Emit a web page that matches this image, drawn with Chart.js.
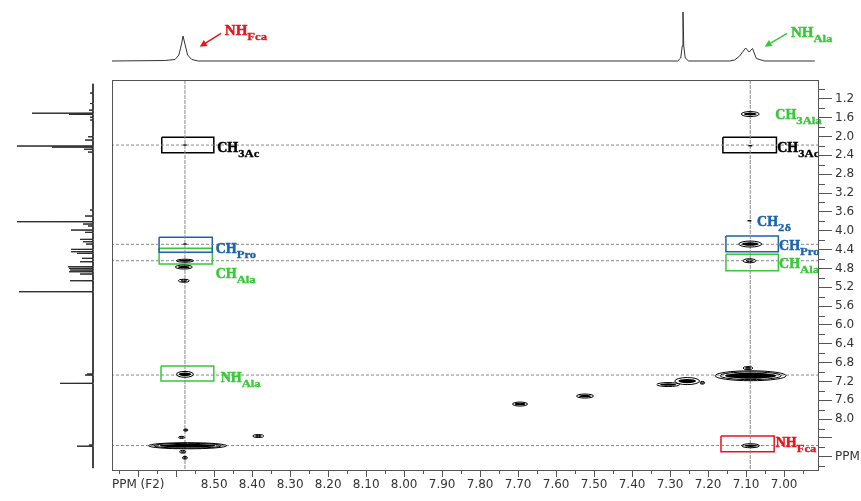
<!DOCTYPE html>
<html>
<head>
<meta charset="utf-8">
<script src="https://cdn.jsdelivr.net/npm/chart.js@4.4.1/dist/chart.umd.min.js"></script>
<style>
  html, body { margin: 0; padding: 0; background: #fff; }
  #wrap { position: relative; width: 861px; height: 501px; }
  #wrap canvas { position: absolute; left: 0; top: 0; }
</style>
</head>
<body>
<div id="wrap">
  <canvas id="main" width="861" height="501"></canvas>
  <canvas id="top" width="861" height="501"></canvas>
  <canvas id="side" width="861" height="501"></canvas>
</div>
<script>
// axis ranges (ppm)
var f2Range = [6.908, 8.769];
var f1Range = [0.80, 9.08];

// tick values
var f2Ticks = [8.7, 8.6, 8.5, 8.4, 8.3, 8.2, 8.1, 8.0, 7.9, 7.8, 7.7, 7.6, 7.5, 7.4, 7.3, 7.2, 7.1, 7.0];
var f2Minor = [8.75, 8.65, 8.55, 8.45, 8.35, 8.25, 8.15, 8.05, 7.95, 7.85, 7.75, 7.65, 7.55, 7.45, 7.35, 7.25, 7.15, 7.05, 6.95];
var f1Ticks = [1.2, 1.6, 2.0, 2.4, 2.8, 3.2, 3.6, 4.0, 4.4, 4.8, 5.2, 5.6, 6.0, 6.4, 6.8, 7.2, 7.6, 8.0, 8.4, 8.8];
var f1Minor = [1.0, 1.4, 1.8, 2.2, 2.6, 3.0, 3.4, 3.8, 4.2, 4.6, 5.0, 5.4, 5.8, 6.2, 6.6, 7.0, 7.4, 7.8, 8.2, 8.6, 9.0];

// 1D trace on top (F2), intensity
var topPpm = [8.769, 8.630, 8.603, 8.593, 8.586, 8.582, 8.577, 8.570, 8.559, 8.542,
              7.280, 7.272, 7.268, 7.266, 7.264, 7.260, 7.251,
              7.143, 7.130, 7.117, 7.101, 7.092, 7.083, 7.073, 7.051, 6.919];
var topInt = [0, 0.5, 1.5, 6, 17, 25, 17, 6, 1.5, 0,
              0, 3, 15, 49, 15, 3, 0,
              0, 1, 5, 13, 9, 12.5, 2.5, 0, 0];

// 1D trace on the left (F1): line positions and heights
var sideLines = [1.077, 1.30, 1.44, 1.505, 1.53, 1.59, 1.65, 2.005, 2.075, 2.202, 2.225, 2.27, 2.33,
                 3.56, 3.688, 3.809, 3.858, 3.90, 3.986, 4.034, 4.183, 4.234, 4.283, 4.395, 4.446, 4.48,
                 4.586, 4.659, 4.765, 4.799, 4.835, 4.871, 4.92, 5.062, 5.295, 7.043, 7.064, 7.24, 8.55, 8.575];
var sideInt = [3, 3, 4, 61, 24, 3, 3, 5, 8, 76, 41, 9, 5,
               3, 8, 76, 10, 5, 22, 8, 13, 10, 7, 22, 22, 16,
               11, 13, 25, 24, 23, 24, 13, 23, 74, 6, 8, 33, 4, 16];

// cross peaks: F2, F1, extent along F2, extent along F1 (ppm), contour level
var crossF2 = [8.577, 8.577, 8.577, 8.580, 8.580, 8.577, 8.570, 8.575, 8.586, 8.583, 8.577, 8.384,
               7.089, 7.089, 7.091, 7.089, 7.091, 7.088, 7.095, 7.305, 7.255, 7.215, 7.524, 7.695, 7.088];
var crossF1 = [2.181, 4.283, 4.637, 4.771, 5.062, 7.049, 8.565, 8.232, 8.387, 8.693, 8.82, 8.359,
               1.523, 2.196, 3.788, 4.283, 4.637, 7.079, 6.916, 7.266, 7.192, 7.228, 7.51, 7.68, 8.565];
var crossW = [0.008, 0.008, 0.045, 0.045, 0.029, 0.045, 0.205, 0.012, 0.016, 0.016, 0.013, 0.029,
              0.047, 0.010, 0.010, 0.060, 0.034, 0.187, 0.026, 0.060, 0.065, 0.012, 0.045, 0.040, 0.047];
var crossH = [0.02, 0.02, 0.064, 0.085, 0.064, 0.125, 0.13, 0.045, 0.045, 0.06, 0.06, 0.064,
              0.106, 0.02, 0.02, 0.127, 0.085, 0.21, 0.064, 0.085, 0.15, 0.06, 0.085, 0.085, 0.085];
var crossLevel = [0, 0, 2, 2, 1, 2, 3, 1, 1, 1, 1, 1,
                  2, 0, 0, 2, 1, 3, 1, 2, 2, 1, 2, 2, 2];

// guide lines
var hLineF1 = [2.181, 4.289, 4.637, 7.064, 8.561];
var vLineF2 = [8.577, 7.089];

// boxes (F2 from/to, F1 from/to)
var boxF2a = [8.638, 8.645, 8.645, 8.640, 7.161, 7.153, 7.153, 7.166];
var boxF2b = [8.501, 8.505, 8.505, 8.501, 7.020, 7.015, 7.015, 7.026];
var boxF1a = [2.017, 4.141, 4.374, 6.873, 2.017, 4.113, 4.502, 8.359];
var boxF1b = [2.344, 4.459, 4.707, 7.192, 2.344, 4.446, 4.850, 8.693];
var boxKind = ['k', 'b', 'g', 'g', 'k', 'b', 'g', 'r'];

// labels in the 2D plot
var labMain = ['CH', 'CH', 'CH', 'NH', 'CH', 'CH', 'CH', 'CH', 'CH', 'NH'];
var labSub = ['3Ac', 'Pro', 'Ala', 'Ala', '3Ala', '3Ac', '2δ', 'Pro', 'Ala', 'Fca'];
var labF2 = [8.492, 8.496, 8.496, 8.483, 7.023, 7.018, 7.071, 7.013, 7.013, 7.022];
var labF1 = [2.33, 4.463, 5.005, 7.202, 1.618, 2.319, 3.90, 4.41, 4.792, 8.589];
var labKind = ['k', 'b', 'g', 'g', 'g', 'k', 'b', 'b', 'g', 'r'];

// labels over the top trace, with arrows
var topLabMain = ['NH', 'NH'];
var topLabSub = ['Fca', 'Ala'];
var topLabF2 = [8.472, 6.982];
var topLabInt = [26, 24.5];
var topLabKind = ['r', 'g'];
var arrowFromF2 = [8.482, 6.992];
var arrowFromInt = [27.7, 27.7];
var arrowToF2 = [8.538, 7.051];
var arrowToInt = [14.3, 14.3];

var colors = { k: '#000000', b: '#1b63ad', g: '#36c936', r: '#e3151d' };
var tickFont = { family: 'DejaVu Sans', size: 12 };

function near(a, b) { return Math.abs(a - b) < 1e-6; }

function drawLabel(ctx, x, y, main, sub, color, size) {
  ctx.save();
  ctx.fillStyle = color;
  ctx.strokeStyle = color;
  ctx.lineWidth = 0.5;
  ctx.textAlign = 'left';
  ctx.textBaseline = 'alphabetic';
  ctx.font = 'bold ' + size + 'px "Liberation Serif"';
  ctx.fillText(main, x, y);
  ctx.strokeText(main, x, y);
  var w = ctx.measureText(main).width;
  ctx.translate(x + w, y + 5);
  ctx.scale(1.15, 1);
  ctx.font = 'bold 11px "Liberation Serif"';
  ctx.fillText(sub, 0, 0);
  ctx.lineWidth = 0.3;
  ctx.strokeText(sub, 0, 0);
  ctx.restore();
}

function ellipse(ctx, cx, cy, rx, ry) {
  ctx.beginPath();
  ctx.ellipse(cx, cy, Math.max(rx, 0.6), Math.max(ry, 0.6), 0, 0, Math.PI * 2);
}

// datasets of the 2D plot
var datasets = [];
hLineF1.forEach(function (v) {
  datasets.push({ data: [{ x: f2Range[0], y: v }, { x: f2Range[1], y: v }], showLine: true,
    borderColor: '#8a8a8a', borderWidth: 1, borderDash: [3, 2], pointRadius: 0 });
});
vLineF2.forEach(function (v) {
  datasets.push({ data: [{ x: v, y: f1Range[0] }, { x: v, y: f1Range[1] }], showLine: true,
    borderColor: '#8a8a8a', borderWidth: 1, borderDash: [4, 1], pointRadius: 0 });
});
boxF2a.forEach(function (a, i) {
  var b = boxF2b[i], c = boxF1a[i], d = boxF1b[i];
  datasets.push({ data: [{ x: a, y: c }, { x: b, y: c }, { x: b, y: d }, { x: a, y: d }, { x: a, y: c }],
    showLine: true, borderColor: colors[boxKind[i]], borderWidth: 1.5, pointRadius: 0 });
});
var crossIndex = datasets.length;
datasets.push({ data: crossF2.map(function (v, i) { return { x: v, y: crossF1[i] }; }), pointRadius: 0 });

var mainPlugin = {
  id: 'nmr2d',
  afterDatasetsDraw: function (chart) {
    var ctx = chart.ctx, xs = chart.scales.x, ys = chart.scales.y, a = chart.chartArea;
    var meta = chart.getDatasetMeta(crossIndex);
    ctx.save();
    ctx.beginPath();
    ctx.rect(a.left, a.top, a.right - a.left, a.bottom - a.top);
    ctx.clip();
    ctx.strokeStyle = '#000';
    ctx.fillStyle = '#000';
    meta.data.forEach(function (pt, i) {
      var rx = Math.abs(xs.getPixelForValue(crossF2[i] + crossW[i] / 2) - xs.getPixelForValue(crossF2[i] - crossW[i] / 2)) / 2;
      var ry = Math.abs(ys.getPixelForValue(crossF1[i] + crossH[i] / 2) - ys.getPixelForValue(crossF1[i] - crossH[i] / 2)) / 2;
      var lv = crossLevel[i];
      if (lv === 0) {
        ctx.lineWidth = 1.4;
        ctx.beginPath();
        ctx.moveTo(pt.x - rx, pt.y);
        ctx.lineTo(pt.x + rx, pt.y);
        ctx.stroke();
        return;
      }
      ctx.lineWidth = 1;
      ellipse(ctx, pt.x, pt.y, rx, ry);
      ctx.stroke();
      if (lv === 1) {
        ellipse(ctx, pt.x, pt.y, rx * 0.5, ry * 0.45);
        ctx.stroke();
      } else if (lv === 2) {
        ellipse(ctx, pt.x, pt.y, rx * 0.72, ry * 0.6);
        ctx.fill();
      } else {
        ellipse(ctx, pt.x, pt.y, rx * 0.86, ry * 0.78);
        ctx.stroke();
        ellipse(ctx, pt.x, pt.y, rx * 0.72, ry * 0.6);
        ctx.fill();
      }
    });
    ctx.restore();

    labMain.forEach(function (m, i) {
      drawLabel(ctx, xs.getPixelForValue(labF2[i]), ys.getPixelForValue(labF1[i]), m, labSub[i], colors[labKind[i]], 14);
    });
  },
  afterDraw: function (chart) {
    var ctx = chart.ctx, xs = chart.scales.x, ys = chart.scales.y, a = chart.chartArea;
    ctx.save();
    ctx.strokeStyle = '#555';
    ctx.lineWidth = 1;
    ctx.strokeRect(a.left + 0.5, a.top + 0.5, a.right - a.left - 1, a.bottom - a.top);
    ctx.beginPath();
    f2Minor.forEach(function (v) {
      var px = Math.round(xs.getPixelForValue(v)) + 0.5;
      ctx.moveTo(px, a.bottom);
      ctx.lineTo(px, a.bottom + 4);
    });
    f1Minor.forEach(function (v) {
      var py = Math.round(ys.getPixelForValue(v)) + 0.5;
      ctx.moveTo(a.right, py);
      ctx.lineTo(a.right + 6, py);
    });
    ctx.stroke();
    ctx.restore();
  }
};

new Chart(document.getElementById('main'), {
  type: 'scatter',
  data: { datasets: datasets },
  options: {
    responsive: false,
    animation: false,
    events: [],
    layout: { padding: { left: 112, top: 80, right: 0, bottom: 0 } },
    plugins: { legend: { display: false }, tooltip: { enabled: false } },
    scales: {
      x: {
        type: 'linear', position: 'bottom', reverse: true, min: f2Range[0], max: f2Range[1],
        afterBuildTicks: function (s) { s.ticks = f2Ticks.map(function (v) { return { value: v }; }); },
        afterFit: function (s) { s.height = 31; },
        grid: { drawOnChartArea: false, drawTicks: true, tickLength: 7, tickColor: '#555' },
        border: { display: false },
        ticks: {
          autoSkip: false, maxRotation: 0, padding: 1, color: '#333', font: tickFont,
          callback: function (v) {
            if (near(v, 8.7)) return 'PPM (F2)';
            if (near(v, 8.6)) return '';
            return Number(v).toFixed(2);
          }
        }
      },
      y: {
        type: 'linear', position: 'right', reverse: true, min: f1Range[0], max: f1Range[1],
        afterBuildTicks: function (s) { s.ticks = f1Ticks.map(function (v) { return { value: v }; }); },
        afterFit: function (s) { s.width = 42; },
        grid: { drawOnChartArea: false, drawTicks: true, tickLength: 13, tickColor: '#555' },
        border: { display: false },
        ticks: {
          autoSkip: false, padding: 3, color: '#333', font: tickFont,
          callback: function (v) {
            if (near(v, 8.4)) return '';
            if (near(v, 8.8)) return 'PPM';
            return Number(v).toFixed(1);
          }
        }
      }
    }
  },
  plugins: [mainPlugin]
});

// top projection
var topPlugin = {
  id: 'topNotes',
  afterDatasetsDraw: function (chart) {
    var ctx = chart.ctx, xs = chart.scales.x, ys = chart.scales.y;
    topLabMain.forEach(function (m, i) {
      var col = colors[topLabKind[i]];
      drawLabel(ctx, xs.getPixelForValue(topLabF2[i]), ys.getPixelForValue(topLabInt[i]), m, topLabSub[i], col, 15);
      var x0 = xs.getPixelForValue(arrowFromF2[i]), y0 = ys.getPixelForValue(arrowFromInt[i]);
      var x1 = xs.getPixelForValue(arrowToF2[i]), y1 = ys.getPixelForValue(arrowToInt[i]);
      var ang = Math.atan2(y1 - y0, x1 - x0);
      ctx.save();
      ctx.strokeStyle = col;
      ctx.fillStyle = col;
      ctx.lineWidth = 1.5;
      ctx.beginPath();
      ctx.moveTo(x0, y0);
      ctx.lineTo(x1 - 4 * Math.cos(ang), y1 - 4 * Math.sin(ang));
      ctx.stroke();
      ctx.beginPath();
      ctx.moveTo(x1, y1);
      ctx.lineTo(x1 - 7 * Math.cos(ang) + 3.5 * Math.sin(ang), y1 - 7 * Math.sin(ang) - 3.5 * Math.cos(ang));
      ctx.lineTo(x1 - 7 * Math.cos(ang) - 3.5 * Math.sin(ang), y1 - 7 * Math.sin(ang) + 3.5 * Math.cos(ang));
      ctx.closePath();
      ctx.fill();
      ctx.restore();
    });
  }
};

new Chart(document.getElementById('top'), {
  type: 'scatter',
  data: {
    datasets: [{
      data: topPpm.map(function (p, i) { return { x: p, y: topInt[i] }; }),
      showLine: true, borderColor: '#333', borderWidth: 1, pointRadius: 0, clip: false
    }]
  },
  options: {
    responsive: false,
    animation: false,
    events: [],
    layout: { padding: { left: 112, right: 42, top: 0, bottom: 440 } },
    plugins: { legend: { display: false }, tooltip: { enabled: false } },
    scales: {
      x: { display: false, type: 'linear', reverse: true, min: f2Range[0], max: f2Range[1] },
      y: { display: false, type: 'linear', min: 0, max: 61 }
    }
  },
  plugins: [topPlugin]
});

// left projection
var sidePts = [{ x: 0, y: 0.88 }];
sideLines.forEach(function (p, i) {
  sidePts.push({ x: 0, y: p - 0.005 }, { x: sideInt[i], y: p }, { x: 0, y: p + 0.005 });
});
sidePts.push({ x: 0, y: 9.04 });

new Chart(document.getElementById('side'), {
  type: 'scatter',
  data: {
    datasets: [{ data: sidePts, showLine: true, borderColor: '#2a2a2a', borderWidth: 1, pointRadius: 0, clip: false }]
  },
  options: {
    responsive: false,
    animation: false,
    events: [],
    layout: { padding: { left: 0, right: 768, top: 80, bottom: 31 } },
    plugins: { legend: { display: false }, tooltip: { enabled: false } },
    scales: {
      x: { display: false, type: 'linear', reverse: true, min: 0, max: 93 },
      y: { display: false, type: 'linear', reverse: true, min: f1Range[0], max: f1Range[1] }
    }
  }
});
</script>
</body>
</html>
